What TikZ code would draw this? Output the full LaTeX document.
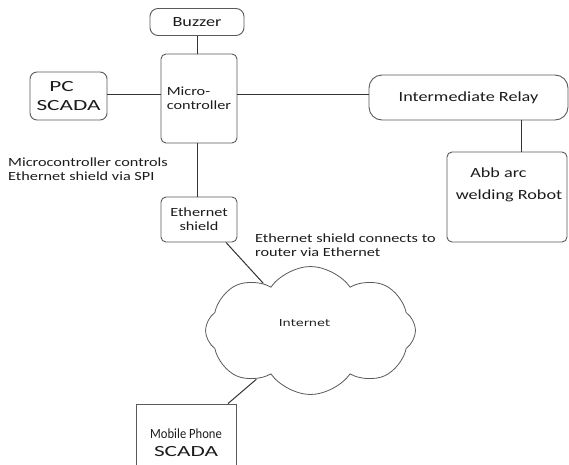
\documentclass[tikz,border=0pt]{standalone}
\usepackage{fontspec}
\setmainfont{Carlito}[FakeStretch=1.3]
\newfontfamily\widefont{Carlito}[FakeStretch=1.5]
\newfontfamily\narrowfont{Carlito}[FakeStretch=0.9]
\newfontfamily\netfont{DejaVu Sans}[FakeStretch=1.35]
\usetikzlibrary{shapes.symbols}
\definecolor{boxgray}{HTML}{5A5A5A}
\definecolor{wiregray}{HTML}{333333}
\definecolor{txt}{HTML}{1C1C1C}
\begin{document}
\begin{tikzpicture}[x=1pt,y=-1pt,
  box/.style={draw=boxgray, line width=0.9pt, rounded corners=5pt, inner sep=0pt,
    font=\fontsize{14}{15}\selectfont, text=txt},
  wire/.style={draw=wiregray, line width=1pt},
  note/.style={font=\fontsize{12.5}{14}\selectfont, align=left, anchor=west,
    inner sep=0pt, text=txt},
  plain/.style={font=\fontsize{14}{15}\selectfont, inner sep=0pt, text=txt}]
\useasboundingbox (0,0) rectangle (569,464);
\clip (0,0) rectangle (569,464);
\fill[white] (0,0) rectangle (569,464);

% blocks
\node[box, rounded corners=8pt, minimum width=94pt, minimum height=27pt] (buzzer) at (197,22) {Buzzer};
\node[box, minimum width=76pt, minimum height=89pt, align=left,
  font=\fontsize{12.5}{14}\selectfont] (mcu) at (199,98.5) {Micro-\\controller};
\node[box, rounded corners=7pt, minimum width=77pt, minimum height=48pt, align=center,
  font=\widefont\fontsize{15.5}{19}\selectfont] (pc) at (68.5,96) {PC\hspace*{14pt}\\SCADA};
\node[box, rounded corners=13pt, minimum width=199pt, minimum height=45pt] (relay) at (468.5,97.5) {Intermediate Relay};
\node[box, minimum width=120pt, minimum height=90pt] (robot) at (507,197) {};
\node[plain] (robotl1) at (498.5,173) {Abb arc};
\node[plain] (robotl2) at (509,196) {welding Robot};
\node[box, minimum width=76pt, minimum height=45pt, align=center,
  font=\fontsize{12.5}{14}\selectfont] (eth) at (199,219.5) {Ethernet\\shield};
\node[cloud, draw=boxgray, line width=0.8pt, cloud puffs=8, cloud puff arc=110, aspect=1.8,
  minimum width=210pt, minimum height=128pt, inner sep=0pt,
  label={[xshift=-6pt, yshift=7pt, text=txt, font=\netfont\fontsize{9.6}{11}\selectfont]center:Internet}]
  (cloud) at (310.5,330.5) {};
\node[draw=boxgray, line width=0.9pt, inner sep=0pt, minimum width=100pt, minimum height=78pt,
  align=center, text=txt, font=\fontsize{14}{18}\selectfont] (mobile) at (186,443)
  {{\narrowfont Mobile Phone}\\{\widefont\fontsize{15.5}{18}\selectfont SCADA}};

% notes
\node[note] (spinote) at (8,169) {Microcontroller controls\\Ethernet shield via SPI};
\node[note] (ethnote) at (255,245) {Ethernet shield connects to\\router via Ethernet};

% connectors
\coordinate (hub) at (199,94);
\coordinate (drop) at (521,0);
\coordinate (spi) at (197,0);
\coordinate (tap) at (226,0);
\coordinate (phone) at (228,0);
\draw[wire] (buzzer.south) -- (buzzer.south |- mcu.north);
\draw[wire] (pc.east |- hub) -- (mcu.west |- hub);
\draw[wire] (mcu.east |- hub) -- (relay.west |- hub);
\draw[wire] (relay.south -| drop) -- (robot.north -| drop);
\draw[wire] (mcu.south -| spi) -- (eth.north -| spi);
\draw[wire] (eth.south -| tap) -- (cloud.135);
\draw[wire] (cloud.222) -- (mobile.north -| phone);
\end{tikzpicture}
\end{document}
